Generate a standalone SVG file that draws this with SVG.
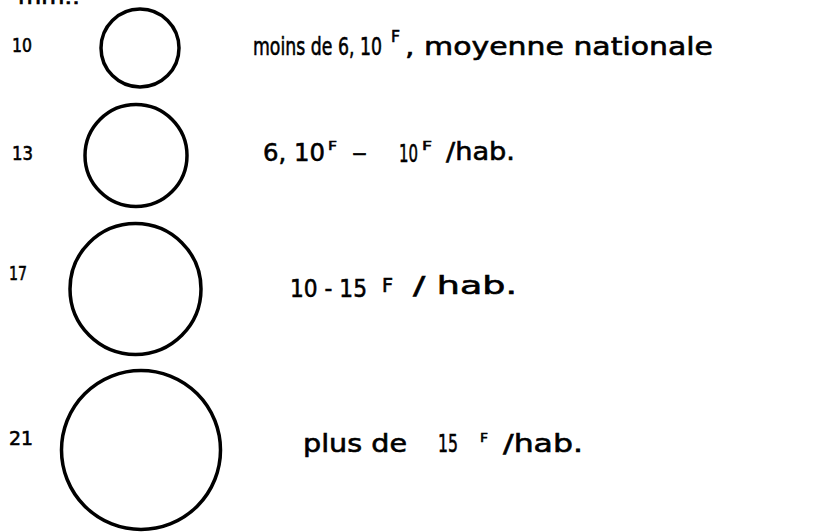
<svg xmlns="http://www.w3.org/2000/svg" width="827" height="532" viewBox="0 0 827 532">
<style>
.c{fill:none;stroke:#000;stroke-width:3.5}
.t{font-family:"DejaVu Sans","Liberation Sans",sans-serif;fill:#000;stroke:#000;stroke-width:0.6;font-size:25px}
.n{font-family:"DejaVu Sans","Liberation Sans",sans-serif;fill:#000;stroke:#000;stroke-width:0.6;font-size:19px}
</style>
<rect width="827" height="532" fill="#fff"/>
<text class="n" x="18" y="4" textLength="62" lengthAdjust="spacingAndGlyphs">mm.:</text>
<g id="row10">
<circle class="c" cx="140" cy="48" r="39"/>
<text class="n" x="12" y="52" textLength="20" lengthAdjust="spacingAndGlyphs">10</text>
<text class="t"><tspan x="253" y="55" textLength="129" lengthAdjust="spacingAndGlyphs">moins de 6, 10</tspan><tspan x="391" y="42" font-size="16" textLength="9" lengthAdjust="spacingAndGlyphs">F</tspan><tspan x="405" y="55" textLength="308" lengthAdjust="spacingAndGlyphs">, moyenne nationale</tspan></text>
</g>
<g id="row13">
<circle class="c" cx="136" cy="155.5" r="51"/>
<text class="n" x="12" y="160" textLength="21" lengthAdjust="spacingAndGlyphs">13</text>
<text class="t"><tspan x="263" y="161" textLength="62" lengthAdjust="spacingAndGlyphs">6, 10</tspan><tspan x="328" y="150" font-size="13" textLength="9" lengthAdjust="spacingAndGlyphs">F</tspan><tspan x="352" y="161" textLength="15" lengthAdjust="spacingAndGlyphs">–</tspan><tspan x="399" y="162" textLength="19" lengthAdjust="spacingAndGlyphs">10</tspan><tspan x="422" y="150" font-size="13" textLength="10" lengthAdjust="spacingAndGlyphs">F</tspan><tspan x="446" y="160" textLength="69" lengthAdjust="spacingAndGlyphs">/hab.</tspan></text>
</g>
<g id="row17">
<circle class="c" cx="135.5" cy="289" r="65.5"/>
<text class="n" x="9" y="280" textLength="18" lengthAdjust="spacingAndGlyphs">17</text>
<text class="t"><tspan x="290" y="297" textLength="77" lengthAdjust="spacingAndGlyphs">10 - 15</tspan><tspan x="382" y="292" font-size="19" textLength="11" lengthAdjust="spacingAndGlyphs">F</tspan><tspan x="413" y="294" textLength="104" lengthAdjust="spacingAndGlyphs">/ hab.</tspan></text>
</g>
<g id="row21">
<circle class="c" cx="141" cy="450" r="79.5"/>
<text class="n" x="9" y="445" textLength="24" lengthAdjust="spacingAndGlyphs">21</text>
<text class="t"><tspan x="303" y="452" textLength="104" lengthAdjust="spacingAndGlyphs">plus de</tspan><tspan x="438" y="452" textLength="20" lengthAdjust="spacingAndGlyphs">15</tspan><tspan x="480" y="442" font-size="13" textLength="8" lengthAdjust="spacingAndGlyphs">F</tspan><tspan x="503" y="452" textLength="80" lengthAdjust="spacingAndGlyphs">/hab.</tspan></text>
</g>
<g id="connectors"></g>
</svg>
